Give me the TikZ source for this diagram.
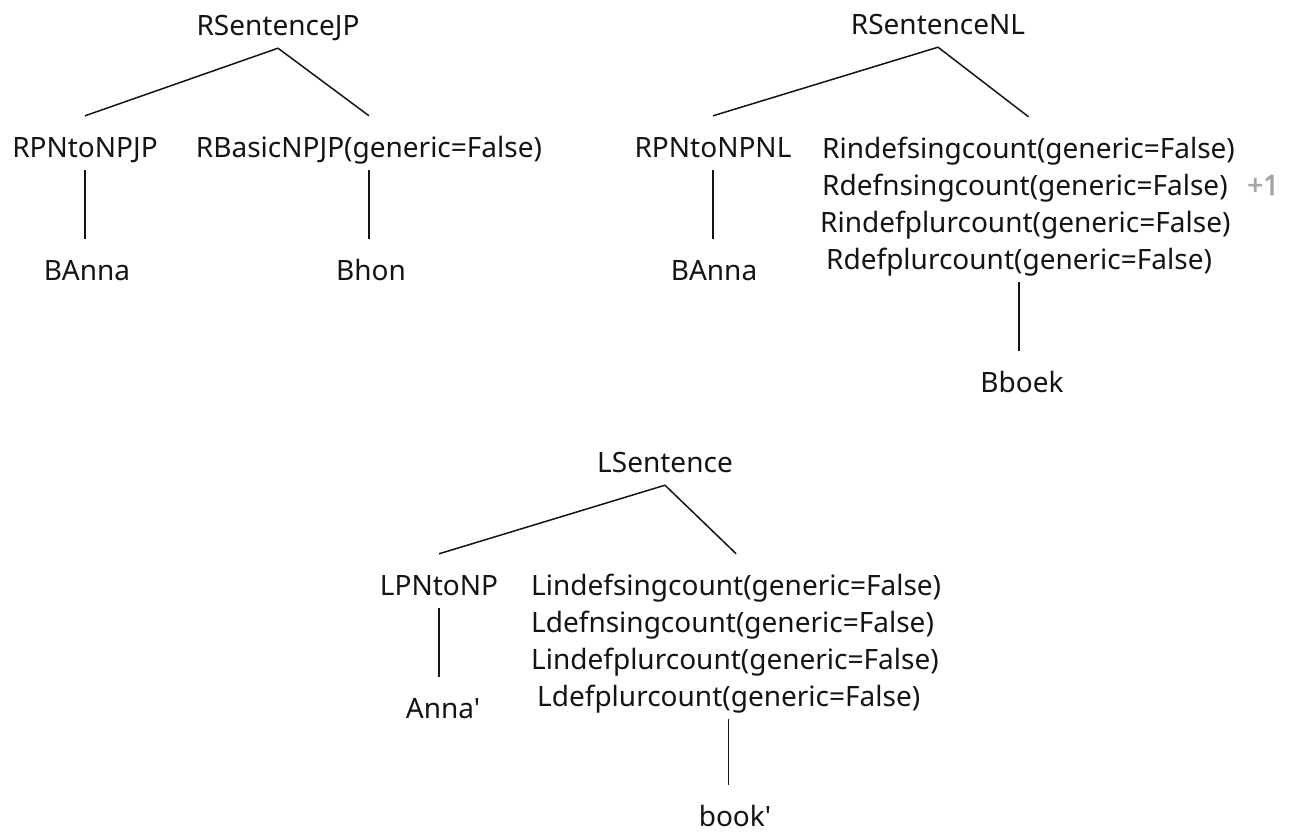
\documentclass[tikz,border=0pt]{standalone}
\usepackage{fontspec}
\setmainfont{Noto Sans}[Ligatures=TeXOff]
\newfontfamily\plusfont{Noto Sans}[FakeBold=2.5]
\begin{document}
\begin{tikzpicture}[x=1pt,y=-1pt,
  lbl/.style={inner sep=0pt, text height=41pt, text depth=13pt,
    font=\fontsize{28}{33}\selectfont, text=black!92},
  leaf/.style={lbl, text depth=2pt},
  edge/.style={line width=1.5pt, black!92},
  plus/.style={inner sep=0pt, font=\plusfont\fontsize{28}{33}\selectfont, text=black!35}]
\useasboundingbox (0,0) rectangle (1295,833);

% Japanese sentence tree
\node[lbl, anchor=base] (jp)   at (278,35)  {RSentenceJP};
\node[lbl, anchor=base] (jpA)  at (85,157)  {RPNtoNPJP};
\node[lbl, anchor=base] (jpB)  at (369,157) {RBasicNPJP(generic=False)};
\node[leaf, anchor=base] (jpA1) at (87,280)  {BAnna};
\node[leaf, anchor=base] (jpB1) at (371,280) {Bhon};
\draw[edge] (jp.south) -- (jpA.north);
\draw[edge] (jp.south) -- (jpB.north);
\draw[edge] (jpA.south) -- (jpA.south |- jpA1.north);
\draw[edge] (jpB.south) -- (jpB.south |- jpB1.north);

% Dutch sentence tree
\node[lbl, anchor=base] (nl)   at (938,34)  {RSentenceNL};
\node[lbl, anchor=base] (nlA)  at (713,157) {RPNtoNPNL};
\node[lbl, anchor=base west] (nlB1) at (822,158) {Rindefsingcount(generic=False)};
\node[lbl, anchor=base west] (nlB2) at (822,195) {Rdefnsingcount(generic=False)};
\node[plus, anchor=base west] (nlPlus) at (1247,195) {+1};
\node[lbl, anchor=base west] (nlB3) at (820,232) {Rindefplurcount(generic=False)};
\node[lbl, anchor=base west] (nlB4) at (826,269) {Rdefplurcount(generic=False)};
\node[leaf, anchor=base] (nlB5) at (1022,392) {Bboek};
\node[leaf, anchor=base] (nlA1) at (714,280) {BAnna};
\draw[edge] (nl.south) -- (nlA.north);
\draw[edge] (nl.south) -- (nlB1.north);
\draw[edge] (nlA.south) -- (nlA.south |- nlA1.north);
\draw[edge] (nlB4.south) -- (nlB4.south |- nlB5.north);

% Logical form tree
\node[lbl, anchor=base] (ls)   at (665,472) {LSentence};
\node[lbl, anchor=base] (lsA)  at (439,595) {LPNtoNP};
\node[lbl, anchor=base west] (lsB1) at (531,595) {Lindefsingcount(generic=False)};
\node[lbl, anchor=base west] (lsB2) at (531,632) {Ldefnsingcount(generic=False)};
\node[lbl, anchor=base west] (lsB3) at (531,669) {Lindefplurcount(generic=False)};
\node[lbl, anchor=base west] (lsB4) at (537,706) {Ldefplurcount(generic=False)};
\node[leaf, anchor=base] (lsA1) at (443,718) {Anna'};
\node[leaf, anchor=base] (lsB5) at (735,826) {book'};
\draw[edge] (ls.south) -- (lsA.north);
\draw[edge] (ls.south) -- (lsB1.north);
\draw[edge] (lsA.south) -- (lsA.south |- lsA1.north);
\draw[edge] (lsB4.south) -- (lsB4.south |- lsB5.north);
\end{tikzpicture}
\end{document}
